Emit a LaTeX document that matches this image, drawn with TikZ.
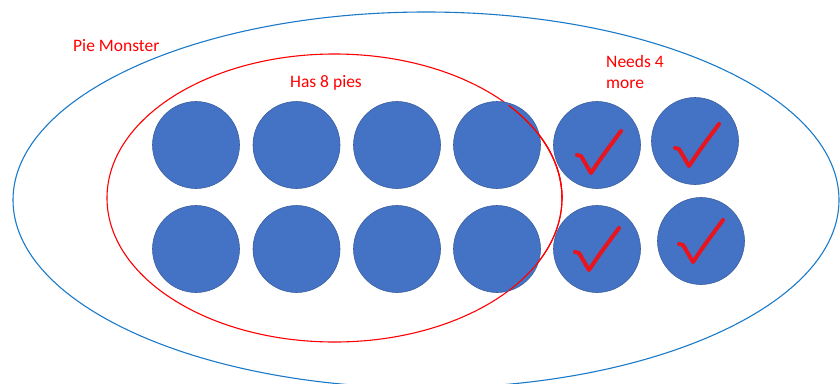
\documentclass[tikz,border=0pt]{standalone}
\usepackage{fontspec}
\setmainfont{Carlito}
\usetikzlibrary{shapes.geometric}
\definecolor{pieblue}{HTML}{4472C4}
\definecolor{pieedge}{HTML}{3A5F9F}
\definecolor{outerblue}{HTML}{1A7AC8}
\definecolor{lblred}{HTML}{FF0000}
\definecolor{chkred}{HTML}{E8141E}
\tikzset{
  pie/.style={circle, fill=pieblue, draw=pieedge, line width=0.6pt, minimum size=87pt, inner sep=0pt},
  lbl/.style={text=lblred, font=\fontsize{17.5}{21}\selectfont, inner sep=0pt},
  tick/.pic={\draw[chkred, line width=4pt, line cap=round, line join=round]
      (0,0) -- (4,1) -- (14,18) .. controls (24,3) .. (44,-24);}
}
\begin{document}
\begin{tikzpicture}[x=1pt,y=-1pt]
\useasboundingbox (0,0) rectangle (840,383);
\draw[outerblue, line width=1.1pt] (426,200) ellipse [x radius=413, y radius=188];
\draw[lblred, line width=1.1pt] (334.5,198) ellipse [x radius=227.5, y radius=144];
\node[lbl, anchor=west] (pm) at (73,46) {Pie Monster};
\node[lbl] (h8) at (326,83) {Has 8 pies};
\node[lbl, anchor=north west, align=left] (nm) at (606,55) {Needs 4\\more};
\node[pie] (a1) at (196,145) {};
\node[pie] (a2) at (296.5,145) {};
\node[pie] (a3) at (397,145) {};
\node[pie] (a4) at (497,145) {};
\node[pie] (a5) at (597,145) {};
\node[pie] (a6) at (695,141) {};
\node[pie] (b1) at (196,249) {};
\node[pie] (b2) at (296.5,249) {};
\node[pie] (b3) at (397,249) {};
\node[pie] (b4) at (497,249) {};
\node[pie] (b5) at (597,249) {};
\node[pie] (b6) at (701,241) {};
\draw[lblred, line width=1.1pt] (334.5,198) ++(0:227.5 and 144) arc[start angle=0, end angle=-40, x radius=227.5, y radius=144];
\draw[lblred, line width=1.1pt] (334.5,198) ++(40:227.5 and 144) arc[start angle=40, end angle=-40, x radius=227.5, y radius=144];
\pic at (577,155) {tick};
\pic at (675,148) {tick};
\pic at (575,252) {tick};
\pic at (679,244) {tick};
\end{tikzpicture}
\end{document}
